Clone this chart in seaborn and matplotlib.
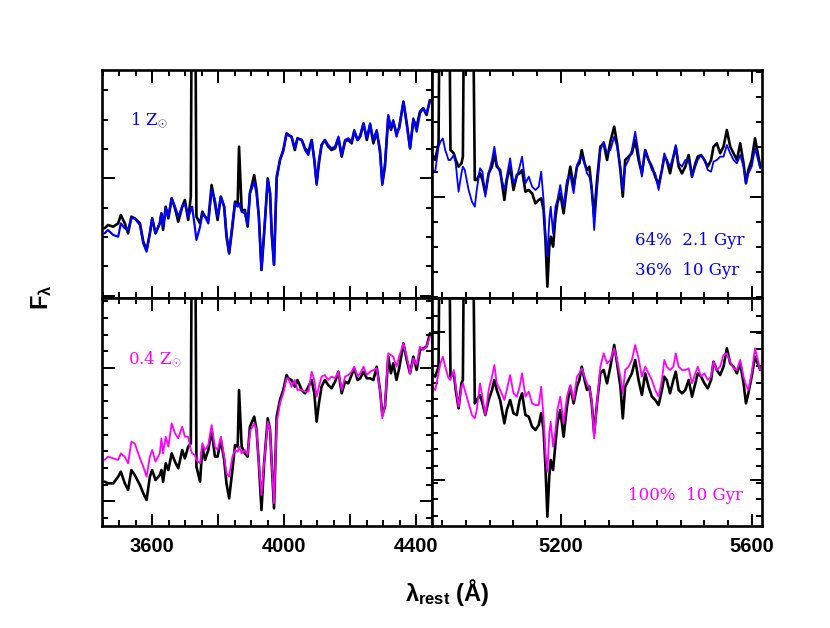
import numpy as np
import pandas as pd
import matplotlib
matplotlib.use('Agg')
import matplotlib.pyplot as plt
from matplotlib.ticker import MultipleLocator, NullFormatter, FuncFormatter
import seaborn as sns

# ---- data: rest-frame wavelength (A) and flux (arbitrary units) ----
wave_blue = [3456, 3466, 3482, 3497, 3505, 3517, 3527, 3537, 3547, 3563,
             3573, 3583, 3593, 3600, 3610, 3623, 3628, 3633, 3641, 3649,
             3659, 3669, 3679, 3691, 3699, 3709, 3717, 3721, 3729, 3734,
             3745, 3752, 3760, 3770, 3780, 3790, 3798, 3808, 3818, 3825,
             3833, 3843, 3851, 3859, 3863, 3871, 3881, 3889, 3896, 3909,
             3916, 3923, 3931, 3939, 3950, 3957, 3962, 3969, 3977, 3987,
             3997, 4007, 4012, 4022, 4032, 4040, 4053, 4063, 4073, 4083,
             4091, 4098, 4105, 4113, 4123, 4133, 4143, 4154, 4164, 4174,
             4184, 4194, 4204, 4212, 4222, 4230, 4240, 4250, 4260, 4270,
             4280, 4290, 4297, 4305, 4315, 4323, 4330, 4340, 4348, 4361,
             4371, 4381, 4391, 4401, 4411, 4421, 4431, 4441]

obs_blue_top = [495, 505, 500, 510, 535, 510, 480, 530, 525, 510,
                455, 430, 480, 525, 480, 510, 540, 490, 560, 525,
                585, 555, 515, 560, 580, 520, 590, 1500, 1500, 530,
                510, 545, 530, 520, 625, 570, 520, 590, 560, 470,
                420, 500, 575, 570, 740, 550, 550, 500, 600, 655,
                610, 530, 370, 480, 645, 600, 480, 385, 650, 700,
                730, 780, 775, 770, 730, 765, 760, 735, 725, 760,
                700, 630, 690, 745, 760, 740, 730, 735, 765, 710,
                755, 760, 750, 785, 760, 770, 810, 760, 805, 750,
                785, 730, 630, 680, 830, 790, 815, 780, 795, 875,
                810, 735, 820, 800, 845, 855, 835, 880]

model_solar_blue = [480, 490, 475, 470, 510, 495, 490, 525, 525, 505,
                    450, 425, 480, 525, 480, 510, 540, 500, 555, 530,
                    585, 560, 530, 560, 570, 530, 550, 560, 500, 460,
                    500, 540, 530, 510, 610, 580, 530, 590, 560, 480,
                    420, 510, 570, 560, 570, 545, 540, 505, 600, 635,
                    600, 530, 370, 480, 640, 600, 480, 385, 640, 700,
                    725, 780, 775, 770, 735, 765, 760, 730, 715, 760,
                    700, 625, 700, 745, 760, 745, 735, 740, 770, 715,
                    760, 765, 755, 790, 760, 775, 810, 765, 810, 760,
                    790, 720, 625, 690, 835, 795, 820, 770, 800, 875,
                    805, 735, 825, 785, 840, 855, 840, 875]

obs_blue_bot = [425, 420, 420, 440, 455, 420, 400, 460, 445, 415,
                390, 370, 440, 460, 430, 445, 460, 425, 480, 460,
                510, 485, 465, 520, 495, 530, 540, 1500, 1500, 470,
                425, 530, 490, 520, 580, 500, 500, 550, 490, 420,
                375, 460, 535, 530, 700, 530, 510, 500, 590, 620,
                580, 480, 340, 480, 615, 580, 480, 345, 620, 670,
                700, 745, 735, 730, 710, 730, 700, 690, 710, 730,
                690, 605, 660, 710, 730, 715, 705, 725, 755, 690,
                725, 720, 745, 765, 730, 735, 755, 735, 735, 730,
                770, 700, 625, 650, 800, 750, 780, 730, 765, 840,
                790, 750, 800, 760, 820, 825, 830, 870]

model_sub_blue = [490, 500, 495, 490, 510, 500, 480, 545, 540, 495,
                  470, 440, 500, 520, 485, 510, 555, 510, 560, 530,
                  600, 570, 555, 590, 560, 560, 520, 510, 505, 490,
                  480, 540, 520, 535, 595, 530, 520, 560, 500, 450,
                  440, 500, 520, 515, 530, 510, 520, 505, 575, 600,
                  580, 480, 385, 480, 605, 580, 480, 360, 600, 660,
                  690, 735, 735, 710, 730, 700, 700, 695, 695, 755,
                  730, 680, 710, 740, 745, 730, 740, 735, 755, 700,
                  740, 745, 755, 770, 740, 750, 770, 745, 755, 760,
                  765, 700, 615, 655, 810, 805, 800, 770, 800, 840,
                  800, 750, 795, 775, 830, 820, 830, 860]

wave_red = [4929, 4936, 4943, 4947, 4952, 4957, 4964, 4968, 4975, 4979,
            4985, 4991, 4994, 4998, 5006, 5013, 5019, 5023, 5030, 5035,
            5041, 5048, 5055, 5060, 5065, 5072, 5081, 5086, 5093, 5100,
            5107, 5113, 5118, 5125, 5132, 5139, 5146, 5153, 5158, 5163,
            5167, 5171, 5175, 5178, 5183, 5188, 5192, 5198, 5205, 5212,
            5219, 5226, 5233, 5238, 5243, 5249, 5254, 5259, 5264, 5269,
            5275, 5282, 5289, 5296, 5303, 5311, 5317, 5324, 5329, 5334,
            5341, 5348, 5355, 5362, 5369, 5376, 5383, 5390, 5397, 5404,
            5411, 5416, 5421, 5428, 5435, 5440, 5446, 5453, 5460, 5467,
            5474, 5481, 5486, 5493, 5500, 5507, 5514, 5519, 5526, 5533,
            5540, 5547, 5554, 5561, 5568, 5575, 5582, 5587, 5592, 5599,
            5606, 5617]

obs_red_top = [720, 700, 750, 1500, 1500, 1500, 1500, 730, 720, 700,
               680, 690, 710, 1500, 1500, 1500, 640, 640, 660, 640,
               600, 660, 680, 720, 680, 670, 580, 640, 680, 610,
               655, 660, 670, 605, 610, 600, 570, 580, 585, 550,
               460, 320, 440, 470, 440, 530, 570, 600, 540, 620,
               680, 620, 680, 690, 730, 690, 670, 680, 610, 530,
               640, 740, 750, 700, 755, 800, 750, 670, 590, 700,
               710, 720, 760, 700, 660, 730, 700, 680, 650, 625,
               670, 710, 700, 660, 710, 740, 680, 660, 680, 715,
               650, 690, 710, 715, 700, 680, 700, 740, 750, 720,
               740, 790, 740, 720, 700, 750, 690, 630, 670, 700,
               765, 680]

model_solar_red = [670, 665, 740, 755, 765, 730, 700, 700, 715, 690,
                   605, 660, 680, 670, 610, 575, 560, 610, 675, 665,
                   590, 660, 700, 740, 690, 660, 610, 650, 705, 630,
                   650, 680, 710, 630, 650, 620, 610, 620, 665, 580,
                   480, 410, 520, 560, 480, 560, 580, 625, 560, 640,
                   655, 600, 685, 700, 710, 690, 660, 650, 620, 490,
                   610, 730, 755, 720, 730, 770, 740, 680, 610, 680,
                   700, 730, 785, 720, 650, 730, 700, 670, 660, 610,
                   670, 720, 700, 680, 710, 745, 690, 680, 700, 700,
                   650, 680, 700, 715, 700, 670, 665, 695, 700, 710,
                   710, 745, 720, 700, 690, 715, 680, 630, 660, 680,
                   735, 675]

obs_red_bot = [750, 740, 770, 1500, 1500, 1500, 1500, 740, 750, 700,
               645, 720, 730, 1500, 1500, 1500, 660, 670, 685, 660,
               625, 670, 700, 730, 700, 670, 600, 640, 670, 630,
               625, 670, 690, 625, 620, 590, 580, 595, 630, 580,
               470, 320, 440, 490, 460, 540, 600, 640, 560, 650,
               710, 660, 710, 730, 770, 730, 700, 710, 660, 570,
               660, 750, 760, 720, 770, 835, 780, 710, 615, 710,
               730, 750, 790, 730, 685, 750, 710, 680, 670, 655,
               700, 740, 730, 690, 730, 755, 700, 690, 700, 730,
               680, 720, 750, 740, 720, 705, 730, 785, 760, 745,
               770, 825, 780, 770, 750, 780, 720, 660, 690, 740,
               800, 760]

model_sub_red = [710, 700, 750, 780, 800, 770, 735, 730, 760, 710,
                 650, 710, 720, 700, 660, 625, 615, 640, 720, 680,
                 625, 700, 740, 775, 720, 700, 670, 700, 745, 690,
                 680, 710, 750, 680, 695, 660, 655, 655, 710, 620,
                 510, 455, 570, 605, 530, 580, 640, 680, 600, 680,
                 715, 670, 740, 750, 765, 740, 720, 705, 670, 555,
                 660, 770, 810, 780, 790, 825, 790, 740, 690, 760,
                 770, 790, 835, 795, 740, 770, 750, 730, 700, 680,
                 730, 790, 770, 760, 770, 810, 770, 760, 760, 765,
                 720, 750, 770, 740, 750, 730, 740, 785, 760, 770,
                 805, 810, 785, 765, 760, 790, 740, 715, 700, 750,
                 825, 760]

W, H = 830, 628

sns.set_style('ticks')
plt.rcParams['font.family'] = ['Liberation Sans', 'DejaVu Sans']
plt.rcParams['text.color'] = 'black'
plt.rcParams['axes.labelcolor'] = 'black'
plt.rcParams['xtick.color'] = 'black'
plt.rcParams['ytick.color'] = 'black'
plt.rcParams['mathtext.fontset'] = 'custom'
plt.rcParams['mathtext.rm'] = 'Liberation Sans:bold'
plt.rcParams['mathtext.it'] = 'Liberation Sans:bold'
plt.rcParams['mathtext.bf'] = 'Liberation Sans:bold'

fig, axes = plt.subplots(2, 2, figsize=(W / 100, H / 100), dpi=100, sharex='col',
                         gridspec_kw=dict(wspace=0, hspace=0))
fig.subplots_adjust(left=102 / W, right=761.7 / W, top=1 - 70 / H, bottom=1 - 526 / H)

blue = '#0000ff'
magenta = '#ff00ff'

panels = [
    (axes[0, 0], wave_blue, obs_blue_top, model_solar_blue, blue, 1.6),
    (axes[1, 0], wave_blue, obs_blue_bot, model_sub_blue, magenta, 1.3),
    (axes[0, 1], wave_red, obs_red_top, model_solar_red, blue, 1.3),
    (axes[1, 1], wave_red, obs_red_bot, model_sub_red, magenta, 1.3),
]
for ax, wav, obs, mod, col, lw in panels:
    sns.lineplot(x=wav, y=obs, ax=ax, color='black', linewidth=1.9,
                 estimator=None, sort=False, legend=False)
    sns.lineplot(x=wav, y=mod, ax=ax, color=col, linewidth=lw,
                 estimator=None, sort=False, legend=False)

# axis ranges
for ax in axes[:, 0]:
    ax.set_xlim(3448, 4447)
    ax.xaxis.set_major_locator(MultipleLocator(200))
    ax.xaxis.set_minor_locator(MultipleLocator(50))
for ax in axes[:, 1]:
    ax.set_xlim(4929, 5620)
    ax.xaxis.set_major_locator(MultipleLocator(400))
    ax.xaxis.set_minor_locator(MultipleLocator(50))

axes[0, 0].set_ylim(286, 970)
axes[0, 0].yaxis.set_major_locator(MultipleLocator(352, offset=293))
axes[0, 0].yaxis.set_minor_locator(MultipleLocator(88, offset=29))
axes[1, 0].set_ylim(292, 976)
axes[1, 0].yaxis.set_major_locator(MultipleLocator(400, offset=366))
axes[1, 0].yaxis.set_minor_locator(MultipleLocator(50, offset=16))
axes[0, 1].set_ylim(286, 970)
axes[0, 1].yaxis.set_major_locator(MultipleLocator(600, offset=590))
axes[0, 1].yaxis.set_minor_locator(MultipleLocator(75, offset=65))
axes[1, 1].set_ylim(292, 976)
axes[1, 1].yaxis.set_major_locator(MultipleLocator(445, offset=430))
axes[1, 1].yaxis.set_minor_locator(MultipleLocator(50, offset=22))

label400 = FuncFormatter(lambda v, p: f'{v:.0f}' if abs(v % 400) < 1e-6 else '')
for ax in axes.flat:
    ax.set_xlabel('')
    ax.set_ylabel('')
    ax.yaxis.set_major_formatter(NullFormatter())
    ax.xaxis.set_major_formatter(label400)
    ax.tick_params(which='both', direction='in', top=True, right=True,
                   bottom=True, left=True, width=1.4, color='black', labelcolor='black')
    ax.tick_params(which='major', length=9, pad=8, labelsize=14.5)
    ax.tick_params(which='minor', length=4.5)
    for s in ax.spines.values():
        s.set_linewidth(1.9)
        s.set_color('black')
for ax in axes[0]:
    ax.tick_params(labelbottom=False)
for ax in axes[1]:
    for lab in ax.get_xticklabels():
        lab.set_fontweight('bold')

# labels
fig.text(42 / W, 1 - 297 / H, r'$\mathrm{F_\lambda}$', rotation=90, ha='center', va='center',
         fontsize=17, color='black')
fig.text(447 / W, 1 - 592 / H, r'$\mathrm{\lambda_{rest}}$ (Å)', ha='center', va='center',
         fontsize=17, fontweight='bold', color='black')

serif = dict(family=['DejaVu Serif'], fontsize=12)
fig.text(130 / W, 1 - 125 / H, r'1 Z$_{\odot}$', color=blue, ha='left', va='baseline', **serif)
fig.text(128 / W, 1 - 364 / H, r'0.4 Z$_{\odot}$', color=magenta, ha='left', va='baseline', **serif)
fig.text(635 / W, 1 - 245 / H, '64%  2.1 Gyr', color=blue, ha='left', va='baseline', **serif)
fig.text(635 / W, 1 - 275 / H, '36%  10 Gyr', color=blue, ha='left', va='baseline', **serif)
fig.text(628 / W, 1 - 500 / H, '100%  10 Gyr', color=magenta, ha='left', va='baseline', **serif)

fig.savefig('out.png', dpi=100)
